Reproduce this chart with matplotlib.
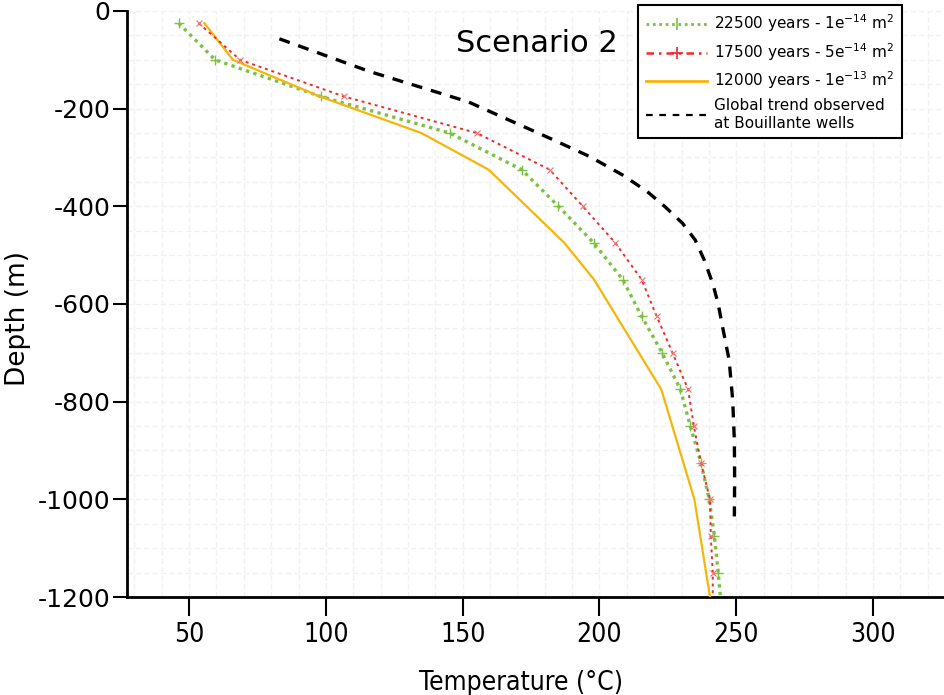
import matplotlib
matplotlib.use("Agg")
import matplotlib.pyplot as plt
from matplotlib.ticker import MultipleLocator
from matplotlib.lines import Line2D
from matplotlib.font_manager import FontProperties

plt.rcParams['font.family'] = ['DejaVu Sans']
plt.rcParams['axes.unicode_minus'] = False

# ---- data ----
depth_steps = [-25, -100, -175, -250, -325, -400, -475, -550, -625, -700,
               -775, -850, -925, -1000, -1075, -1150, -1200]
temp_22500 = [46.2, 59.5, 98.1, 145.3, 171.6, 185.0, 197.9, 208.5, 215.4, 222.9,
              229.6, 233.2, 237.1, 240.1, 242.0, 243.4, 244.2]
temp_17500 = [53.5, 68.6, 106.6, 155.2, 181.8, 193.9, 205.8, 215.4, 220.9, 226.7,
              232.4, 234.5, 237.1, 240.4, 240.7, 241.4, 241.4]
depth_12000 = [-25, -100, -175, -250, -325, -475, -550, -775, -1000, -1200]
temp_12000 = [55.6, 66.0, 97.8, 134.9, 159.5, 187.2, 198.0, 222.6, 234.7, 240.4]
depth_trend = [-57, -124, -186, -261, -298, -336, -370, -401, -435, -469, -510,
               -558, -600, -647, -715, -797, -879, -960, -1035]
temp_trend = [83, 116, 152, 182, 196.4, 208.5, 217.5, 224, 230.4, 235, 238.3,
              241.4, 243.4, 245, 247.4, 248.7, 249.3, 249.4, 249.3]

labels = ["22500 years - 1e$^{-14}$ m$^{2}$",
          "17500 years - 5e$^{-14}$ m$^{2}$",
          "12000 years - 1e$^{-13}$ m$^{2}$",
          "Global trend observed\nat Bouillante wells"]
title_text = "Scenario 2"
x_ticks = [50, 100, 150, 200, 250, 300]
y_ticks = [0, -200, -400, -600, -800, -1000, -1200]

c_green = '#7cc143'
c_red = '#f02828'
c_yellow = '#f5b50a'

fig = plt.figure(figsize=(9.45, 6.95), dpi=100)
ax = fig.add_axes([0.1344, 0.141, 0.8656, 0.8432])

ax.plot(temp_22500, depth_steps, color=c_green, lw=2.4, ls=(0, (1, 1.3)),
        marker='+', ms=7, mew=1.0, markevery=slice(0, -1), zorder=3)
ax.plot(temp_17500, depth_steps, color=c_red, lw=1.4, ls=(0, (1.5, 2.0)),
        marker='x', ms=5, mew=0.8, mec='#f07070', markevery=slice(0, -1), zorder=4)
ax.plot(temp_12000, depth_12000, color=c_yellow, lw=1.6, zorder=3)
ax.plot(temp_trend, depth_trend, color='black', lw=2.4, ls=(0, (3.3, 2.7)), zorder=3)

ax.set_xlim(27.3, 326.3)
ax.set_ylim(-1200, 0)
ax.set_xticks(x_ticks)
ax.set_yticks(y_ticks)
ax.xaxis.set_minor_locator(MultipleLocator(10))
ax.yaxis.set_minor_locator(MultipleLocator(50))
ax.grid(which='both', color='#f1f1f1', lw=1.0, ls=(0, (4, 2)), zorder=0)
ax.set_axisbelow(True)

for s in ['top', 'right']:
    ax.spines[s].set_visible(False)
for s in ['left', 'bottom']:
    ax.spines[s].set_linewidth(2.0)

ax.tick_params(which='minor', length=0)
ax.tick_params(axis='y', which='major', length=10, width=1.5, labelsize=18, pad=2)
ax.tick_params(axis='x', which='major', length=14, width=1.5, labelsize=19, pad=4)
for lbl in ax.get_xticklabels():
    lbl.set_fontproperties(FontProperties(family='DejaVu Sans', size=19, stretch='condensed'))

ax.set_xlabel("Temperature (°C)",
              fontproperties=FontProperties(family='DejaVu Sans', size=19, stretch='condensed'))
ax.xaxis.set_label_coords(0.482, -0.125)
ax.set_ylabel("Depth (m)", fontproperties=FontProperties(family='DejaVu Sans', size=19, stretch='normal'))
ax.yaxis.set_label_coords(-0.117, 0.475)

fig.text(537 / 945, 1 - 43 / 695, title_text, ha='center', va='center',
         fontproperties=FontProperties(family='DejaVu Sans', size=22, stretch='normal'))

handles = [
    Line2D([0, 0.5, 1], [0, 0, 0], color=c_green, lw=2.0, ls=(0, (1, 1.3)), marker='|', ms=8, mew=1.2, markevery=[1]),
    Line2D([0, 0.5, 1], [0, 0, 0], color=c_red, lw=1.8, ls=(0, (3, 2, 1, 2)), marker='+', ms=8, mew=1.2, markevery=[1]),
    Line2D([], [], color=c_yellow, lw=2.0),
    Line2D([], [], color='black', lw=1.6, ls=(0, (3, 3))),
]
leg = fig.legend(handles, labels, loc='upper right', bbox_to_anchor=(902 / 945, 1 - 5 / 695),
                 bbox_transform=fig.transFigure, borderaxespad=0,
                 prop=FontProperties(family='DejaVu Sans', size=11, stretch='normal'),
                 handlelength=4.0, handletextpad=0.45, labelspacing=0.45,
                 fancybox=False, edgecolor='black', framealpha=1, borderpad=0.5)
leg.get_frame().set_linewidth(1.5)

fig.savefig("out.png", dpi=100)
